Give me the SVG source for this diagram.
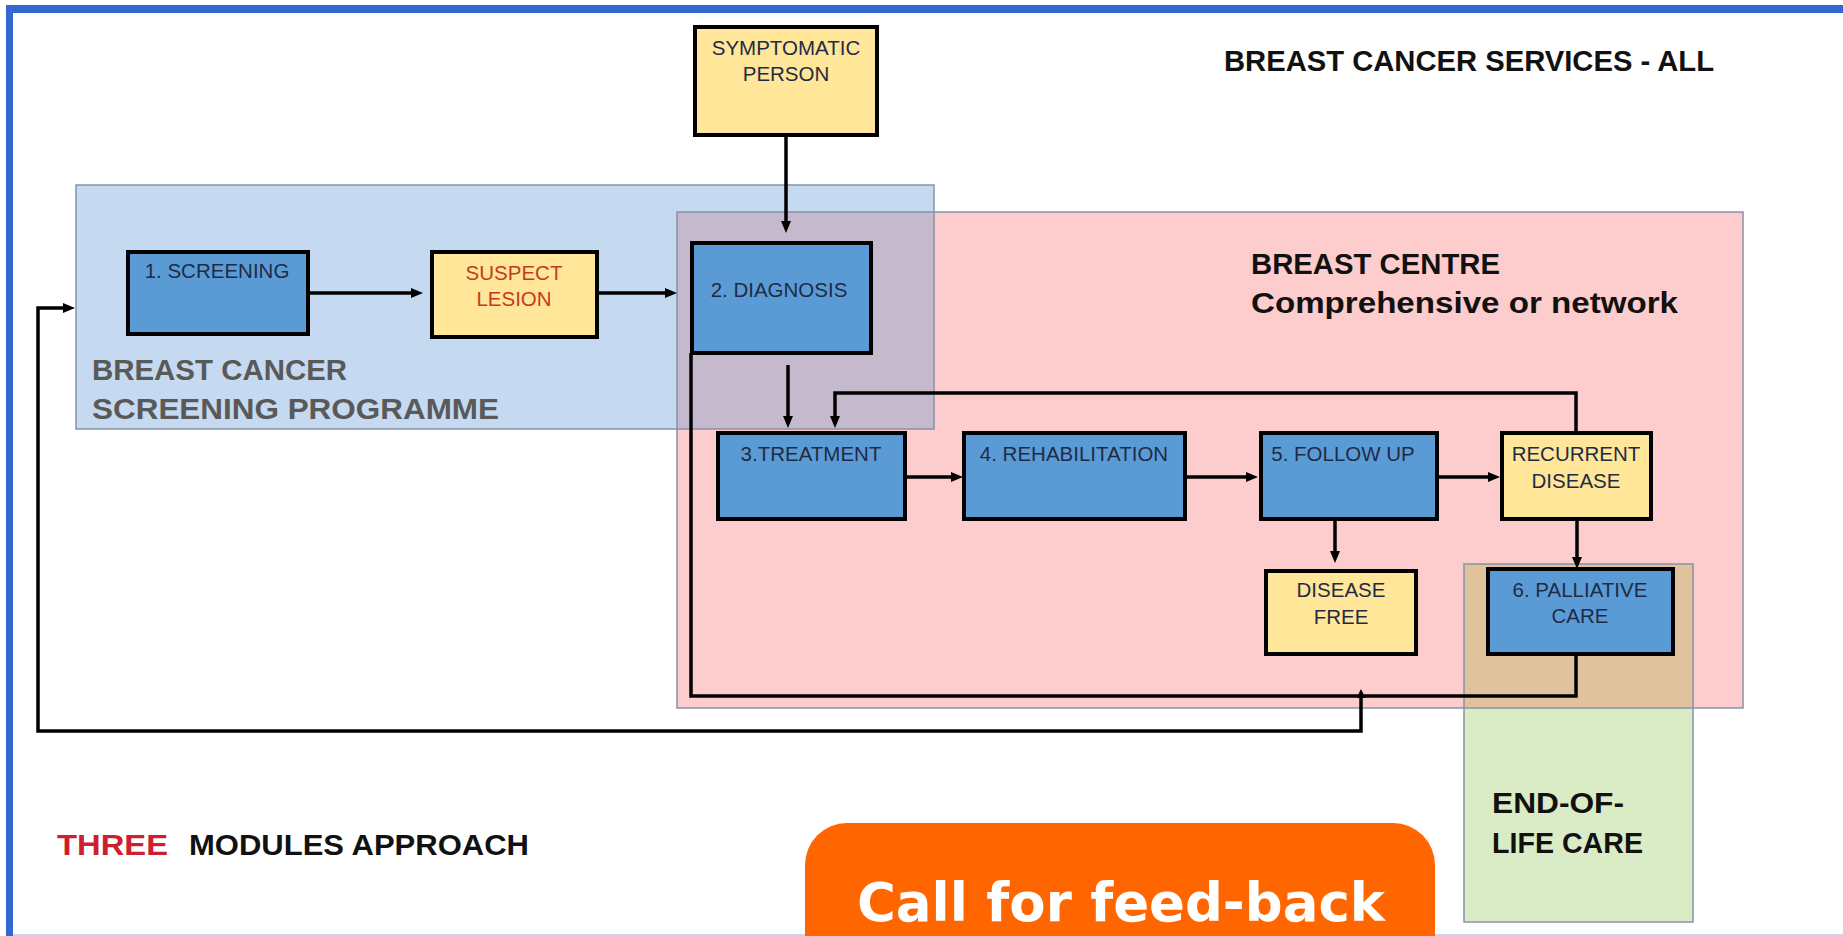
<svg xmlns="http://www.w3.org/2000/svg" width="1843" height="936" viewBox="0 0 1843 936">
  <style>
    .region { stroke: #8592a8; stroke-width: 1.5; fill: none; }
    .box { stroke: #000; stroke-width: 4; }
    .blue { fill: #5b9bd5; }
    .yellow { fill: #ffe699; }
    .lbl { font-family: "Liberation Sans", Arial, sans-serif; font-size: 20.5px; fill: #1f2b45; text-anchor: middle; }
    .red { fill: #c53a1f; }
    .big { font-family: "Liberation Sans", Arial, sans-serif; font-weight: bold; font-size: 29px; fill: #111; }
    .grey { fill: #595959; }
    .conn { fill: none; stroke: #000; stroke-width: 3.5; }
  </style>
  <defs>
    <marker id="arr" markerUnits="userSpaceOnUse" markerWidth="13" markerHeight="11" refX="0" refY="5" orient="auto">
      <path d="M0,0 L12,5 L0,10 z" fill="#000"/>
    </marker>
    <marker id="arrSmall" markerUnits="userSpaceOnUse" markerWidth="10" markerHeight="10" refX="0" refY="4.5" orient="auto-start-reverse">
      <path d="M0,0 L9,4.5 L0,9 z" fill="#000"/>
    </marker>
  </defs>

  <rect x="0" y="0" width="1843" height="936" fill="#ffffff"/>

  <!-- frame -->
  <g id="frame">
    <rect x="6" y="5" width="1837" height="8" fill="#3567d0"/>
    <rect x="6" y="5" width="7" height="931" fill="#3567d0"/>
    <rect x="13" y="934" width="1830" height="2" fill="#c8d4ec"/>
  </g>

  <!-- regions -->
  <g id="regions">
    <rect x="677" y="212" width="1066" height="496" fill="#fdcccc"/>
    <rect x="1464" y="564" width="229" height="358" fill="#d9ecc6"/>
    <rect x="76" y="185" width="858" height="244" fill="#c5daf0"/>
    <rect x="677" y="212" width="257" height="217" fill="#c4b9cd"/>
    <rect x="1464" y="564" width="229" height="144" fill="#e0c29c"/>
    <rect class="region" x="677" y="212" width="1066" height="496"/>
    <rect class="region" x="76" y="185" width="858" height="244"/>
    <rect class="region" x="1464" y="564" width="229" height="358"/>
  </g>

  <!-- region labels -->
  <g id="labels">
    <text class="big" x="1224" y="71" textLength="490" lengthAdjust="spacingAndGlyphs">BREAST CANCER SERVICES - ALL</text>
    <text class="big grey" x="92" y="380" textLength="255" lengthAdjust="spacingAndGlyphs">BREAST CANCER</text>
    <text class="big grey" x="92" y="419" textLength="407" lengthAdjust="spacingAndGlyphs">SCREENING PROGRAMME</text>
    <text class="big" x="1251" y="274" textLength="249" lengthAdjust="spacingAndGlyphs">BREAST CENTRE</text>
    <text class="big" x="1251" y="313" font-size="30" textLength="427" lengthAdjust="spacingAndGlyphs">Comprehensive or network</text>
    <text class="big" x="1492" y="813" textLength="132" lengthAdjust="spacingAndGlyphs">END-OF-</text>
    <text class="big" x="1492" y="853" textLength="151" lengthAdjust="spacingAndGlyphs">LIFE CARE</text>
    <text class="big" x="57" y="855" font-size="31" style="fill:#cc1f2f" textLength="111" lengthAdjust="spacingAndGlyphs">THREE</text>
    <text class="big" x="189" y="855" textLength="340" lengthAdjust="spacingAndGlyphs">MODULES APPROACH</text>
  </g>

  <!-- connectors -->
  <g id="connectors">
    <path class="conn" d="M786,135 V221" marker-end="url(#arr)"/>
    <path class="conn" d="M308,293 H411" marker-end="url(#arr)"/>
    <path class="conn" d="M597,293 H665" marker-end="url(#arr)"/>
    <path class="conn" d="M788,365 V416" marker-end="url(#arr)"/>
    <path class="conn" d="M1576,433 V393 H835 V416" marker-end="url(#arr)"/>
    <path class="conn" d="M905,477 H951" marker-end="url(#arr)"/>
    <path class="conn" d="M1185,477 H1246" marker-end="url(#arr)"/>
    <path class="conn" d="M1437,477 H1488" marker-end="url(#arr)"/>
    <path class="conn" d="M1335,519 V551" marker-end="url(#arr)"/>
    <path class="conn" d="M1577,519 V557" marker-end="url(#arr)"/>
    <path class="conn" stroke-width="4" d="M1576,654 V696 H691 V353"/>
    <path class="conn" d="M1361,698 V731 H38 V308 H63" marker-start="url(#arrSmall)" marker-end="url(#arr)"/>
  </g>

  <!-- nodes -->
  <g id="symptomatic">
    <rect class="box yellow" x="695" y="27" width="182" height="108"/>
    <text class="lbl" x="786" y="55">SYMPTOMATIC</text>
    <text class="lbl" x="786" y="81">PERSON</text>
  </g>
  <g id="screening">
    <rect class="box blue" x="128" y="252" width="180" height="82"/>
    <text class="lbl" x="217" y="278">1. SCREENING</text>
  </g>
  <g id="suspect">
    <rect class="box yellow" x="432" y="252" width="165" height="85"/>
    <text class="lbl red" x="514" y="280">SUSPECT</text>
    <text class="lbl red" x="514" y="306">LESION</text>
  </g>
  <g id="diagnosis">
    <rect class="box blue" x="692" y="243" width="179" height="110"/>
    <text class="lbl" x="779" y="297">2. DIAGNOSIS</text>
  </g>
  <g id="treatment">
    <rect class="box blue" x="718" y="433" width="187" height="86"/>
    <text class="lbl" x="811" y="461">3.TREATMENT</text>
  </g>
  <g id="rehabilitation">
    <rect class="box blue" x="964" y="433" width="221" height="86"/>
    <text class="lbl" x="1074" y="461">4. REHABILITATION</text>
  </g>
  <g id="followup">
    <rect class="box blue" x="1261" y="433" width="176" height="86"/>
    <text class="lbl" x="1343" y="461">5. FOLLOW UP</text>
  </g>
  <g id="recurrent">
    <rect class="box yellow" x="1502" y="433" width="149" height="86"/>
    <text class="lbl" x="1576" y="461">RECURRENT</text>
    <text class="lbl" x="1576" y="488">DISEASE</text>
  </g>
  <g id="diseasefree">
    <rect class="box yellow" x="1266" y="571" width="150" height="83"/>
    <text class="lbl" x="1341" y="597">DISEASE</text>
    <text class="lbl" x="1341" y="624">FREE</text>
  </g>
  <g id="palliative">
    <rect class="box blue" x="1488" y="569" width="185" height="85"/>
    <text class="lbl" x="1580" y="597">6. PALLIATIVE</text>
    <text class="lbl" x="1580" y="623">CARE</text>
  </g>

  <!-- call-out -->
  <g id="callout">
    <rect x="805" y="823" width="630" height="160" rx="42" ry="42" fill="#ff6600"/>
    <text x="1121" y="921" font-family="'DejaVu Sans', Verdana, sans-serif" font-weight="bold" font-size="53" fill="#ffffff" text-anchor="middle" textLength="528" lengthAdjust="spacingAndGlyphs">Call for feed-back</text>
  </g>
</svg>
